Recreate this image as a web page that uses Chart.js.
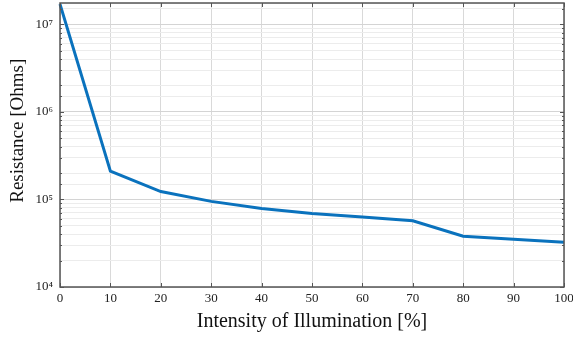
<!DOCTYPE html>
<html>
<head>
<meta charset="utf-8">
<script src="https://cdn.jsdelivr.net/npm/chart.js@4/dist/chart.umd.min.js"></script>
<style>
html,body{margin:0;padding:0;background:#fff;}
#wrap{width:573px;height:340px;position:relative;}
</style>
</head>
<body>
<div id="wrap"><canvas id="c" width="573" height="340"></canvas></div>
<script>
const illumination = [0, 10, 20, 30, 40, 50, 60, 70, 80, 90, 100];
const resistance = [1.7e7, 2.1e5, 1.23e5, 9.5e4, 7.9e4, 6.9e4, 6.3e4, 5.7e4, 3.8e4, 3.5e4, 3.25e4];
const xTickValues = [0, 10, 20, 30, 40, 50, 60, 70, 80, 90, 100];
const yDecadeLabels = { 4: '10\u2074', 5: '10\u2075', 6: '10\u2076', 7: '10\u2077' };
const xTitle = 'Intensity of Illumination [%]';
const yTitle = 'Resistance [Ohms]';

const serif = "'Liberation Serif', 'Times New Roman', serif";

function isDecade(v) {
  const l = Math.log10(v);
  return Math.abs(l - Math.round(l)) < 1e-9;
}

const framePlugin = {
  id: 'frame',
  afterDatasetsDraw(chart) {
    const { ctx, chartArea: a, scales } = chart;
    ctx.save();
    ctx.strokeStyle = '#555';
    ctx.lineWidth = 1;
    scales.x.ticks.forEach(t => {
      const px = Math.round(scales.x.getPixelForValue(t.value)) + 0.5;
      ctx.beginPath();
      ctx.moveTo(px, a.bottom); ctx.lineTo(px, a.bottom - 4);
      ctx.moveTo(px, a.top); ctx.lineTo(px, a.top + 4);
      ctx.stroke();
    });
    scales.y.ticks.forEach(t => {
      if (t.value >= scales.y.max || t.value < scales.y.min) return;
      const py = Math.round(scales.y.getPixelForValue(t.value)) + 0.5;
      const len = isDecade(t.value) ? 4 : 2;
      ctx.beginPath();
      ctx.moveTo(a.left, py); ctx.lineTo(a.left + len, py);
      ctx.moveTo(a.right, py); ctx.lineTo(a.right - len, py);
      ctx.stroke();
    });
    ctx.lineWidth = 1.5;
    ctx.strokeRect(a.left, a.top, a.right - a.left, a.bottom - a.top);
    ctx.restore();
  }
};

new Chart(document.getElementById('c'), {
  type: 'line',
  data: {
    datasets: [{
      data: illumination.map((x, i) => ({ x: x, y: resistance[i] })),
      borderColor: '#0a72bd',
      borderWidth: 3,
      pointRadius: 0,
      tension: 0,
      fill: false,
      clip: false
    }]
  },
  options: {
    responsive: false,
    animation: false,
    layout: { padding: { top: 3, right: 9, left: 0, bottom: 0 } },
    plugins: { legend: { display: false }, tooltip: { enabled: false } },
    scales: {
      x: {
        type: 'linear',
        min: 0, max: 100,
        afterBuildTicks(scale) { scale.ticks = xTickValues.map(v => ({ value: v })); },
        afterFit(scale) { scale.height = 53; scale.paddingLeft = 0; scale.paddingRight = 0; },
        ticks: {
          font: { family: serif, size: 13 },
          color: '#222',
          padding: 4,
          maxRotation: 0
        },
        grid: { color: '#d9d9d9', drawTicks: false, lineWidth: 1 },
        border: { display: false },
        title: {
          display: true,
          text: xTitle,
          font: { family: serif, size: 20 },
          color: '#111',
          padding: { top: 0, bottom: 6 }
        }
      },
      y: {
        type: 'logarithmic',
        min: 1e4, max: 1.75e7,
        afterFit(scale) { scale.width = 60; scale.paddingTop = 0; scale.paddingBottom = 0; },
        ticks: {
          autoSkip: false,
          font: { family: serif, size: 13 },
          color: '#222',
          padding: 7,
          callback(v) {
            if (!isDecade(v)) return '';
            return yDecadeLabels[Math.round(Math.log10(v))] || '';
          }
        },
        grid: {
          drawTicks: false,
          color(ctx) { return ctx.tick && isDecade(ctx.tick.value) ? '#d4d4d4' : '#ececec'; },
          lineWidth: 1
        },
        border: { display: false },
        title: {
          display: true,
          text: '      ' + yTitle,
          font: { family: serif, size: 19 },
          color: '#111',
          padding: { top: 7, bottom: 0 }
        }
      }
    }
  },
  plugins: [framePlugin]
});
</script>
</body>
</html>
